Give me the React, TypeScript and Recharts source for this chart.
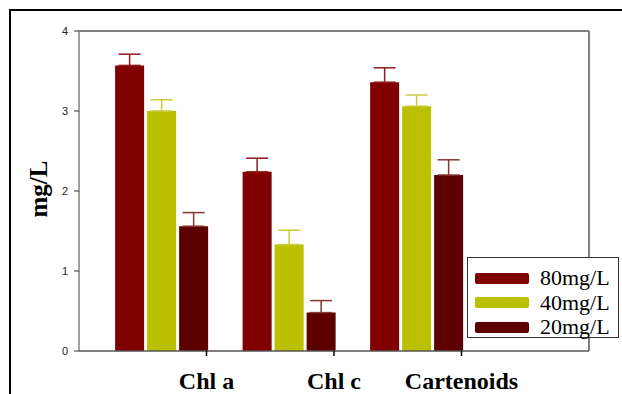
import React from "react"
import { BarChart, Bar, XAxis, YAxis, ErrorBar, ReferenceLine } from "recharts"

const categories = ["Chl a", "Chl c", "Cartenoids"]
const groupPos = [0.65, 1.65, 2.65]
const xTicks = [1, 2, 3]
const yTicks = [0, 1, 2, 3, 4]

const v80 = [3.57, 2.24, 3.36]
const e80 = [0.14, 0.17, 0.18]
const v40 = [3.0, 1.33, 3.06]
const e40 = [0.14, 0.18, 0.14]
const v20 = [1.56, 0.48, 2.2]
const e20 = [0.17, 0.15, 0.19]

const series = [
  { key: "c80", err: "err80", name: "80mg/L", color: "#800000", errColor: "#8e1c1c" },
  { key: "c40", err: "err40", name: "40mg/L", color: "#bbc000", errColor: "#c9cc3c" },
  { key: "c20", err: "err20", name: "20mg/L", color: "#5c0000", errColor: "#8a3434" },
]

const data = categories.map((name, i) => ({
  name,
  x: groupPos[i],
  c80: v80[i],
  err80: [0, e80[i]],
  c40: v40[i],
  err40: [0, e40[i]],
  c20: v20[i],
  err20: [0, e20[i]],
}))

const serif = "'Liberation Serif', 'Times New Roman', serif"
const sans = "'Liberation Sans', Arial, sans-serif"

function YLabel(props: any) {
  const vb = props.viewBox
  const cx = vb.x + 19
  const cy = vb.y + vb.height / 2 - 2
  return (
    <text
      x={cx}
      y={cy}
      transform={`rotate(-90 ${cx} ${cy})`}
      textAnchor="middle"
      dominantBaseline="central"
      fontFamily={serif}
      fontWeight="bold"
      fontSize={25}
      fill="#000"
    >
      mg/L
    </text>
  )
}

export default function App() {
  return (
    <div style={{ position: "fixed", left: 0, top: 0, width: 622, height: 394, overflow: "hidden", background: "#fff" }}>
      <div
        style={{
          position: "absolute",
          left: 9,
          top: 9,
          width: 700,
          height: 500,
          border: "2px solid #000",
        }}
      />
      <div style={{ position: "absolute", left: 0, top: 0 }}>
        <BarChart
          width={622}
          height={394}
          data={data}
          margin={{ top: 31, right: 33, bottom: 0, left: 19 }}
          barSize={29}
          barGap={3}
        >
          <XAxis
            dataKey="x"
            type="number"
            domain={[0, 4]}
            ticks={xTicks}
            tickFormatter={(v: number) => categories[v - 1]}
            height={43}
            axisLine={{ stroke: "#555", strokeWidth: 1.5 }}
            tickLine={{ stroke: "#000", strokeWidth: 1.5 }}
            tickSize={5}
            tickMargin={16}
            tick={{ fontFamily: serif, fontWeight: "bold", fontSize: 24, fill: "#000" }}
          />
          <YAxis
            domain={[0, 4]}
            ticks={yTicks}
            width={60}
            axisLine={{ stroke: "#808080", strokeWidth: 1.5 }}
            tickLine={{ stroke: "#333" }}
            tickSize={5}
            tickMargin={6}
            tick={{ fontFamily: sans, fontSize: 11, fill: "#222" }}
            label={<YLabel />}
          />
          <ReferenceLine y={4} stroke="#000" strokeWidth={1} ifOverflow="visible" />
          <ReferenceLine x={4} stroke="#808080" strokeWidth={2} ifOverflow="visible" />
          {series.map((s) => (
            <Bar key={s.key} dataKey={s.key} name={s.name} fill={s.color} isAnimationActive={false}>
              <ErrorBar dataKey={s.err} width={11} stroke={s.errColor} strokeWidth={1.5} direction="y" />
            </Bar>
          ))}
        </BarChart>
      </div>
      <div
        style={{
          position: "absolute",
          left: 467,
          top: 257,
          width: 152,
          height: 81,
          border: "1px solid #333",
          background: "#fff",
          boxSizing: "border-box",
          paddingTop: 8,
        }}
      >
        {series.map((s) => (
          <div key={s.key} style={{ display: "flex", alignItems: "center", height: 24.5 }}>
            <div style={{ width: 54, height: 11, marginLeft: 7, background: s.color, borderRadius: 2 }} />
            <span style={{ marginLeft: 11, fontFamily: serif, fontSize: 22, color: "#000", lineHeight: "24px" }}>
              {s.name}
            </span>
          </div>
        ))}
      </div>
    </div>
  )
}
